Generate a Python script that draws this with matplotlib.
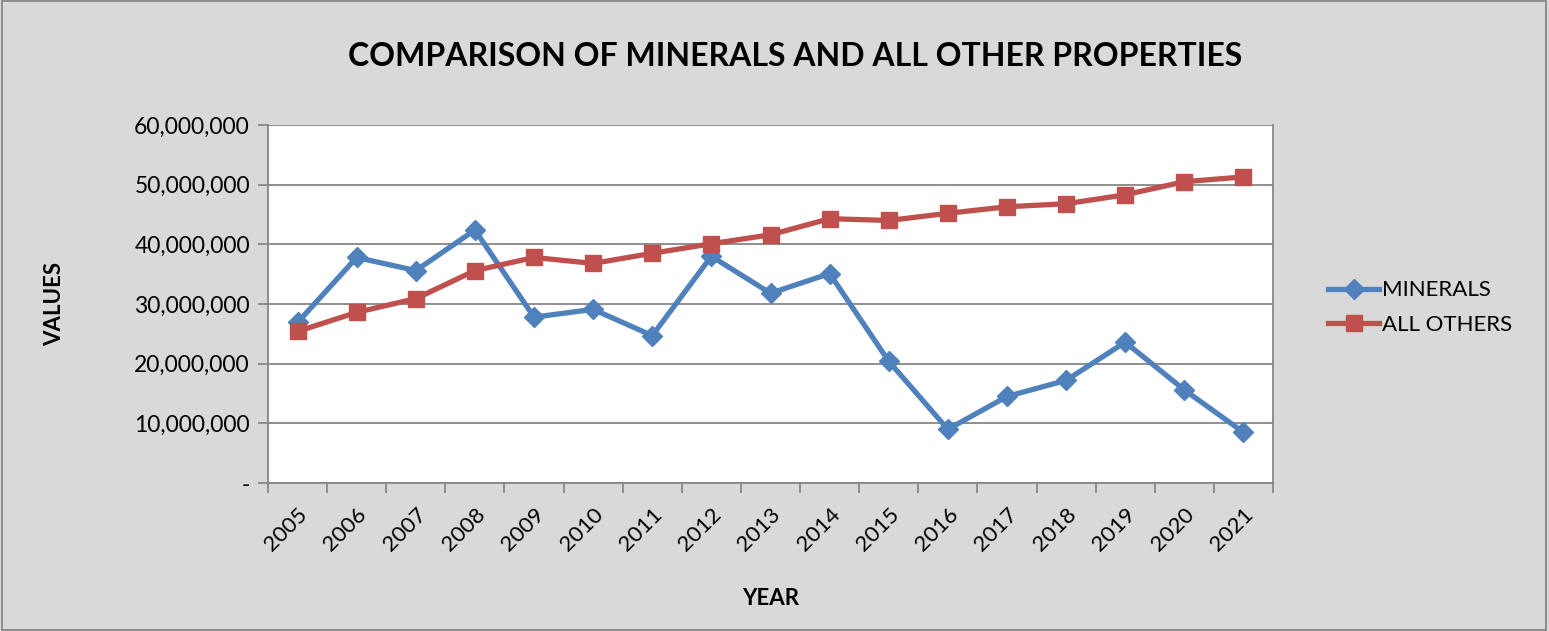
import matplotlib
matplotlib.use('Agg')
import matplotlib.pyplot as plt
import matplotlib.transforms as mtransforms
from matplotlib.ticker import FuncFormatter
import numpy as np

plt.rcParams['font.family'] = ['Lato', 'DejaVu Sans']

# Data
years = ['2005', '2006', '2007', '2008', '2009', '2010', '2011', '2012', '2013',
         '2014', '2015', '2016', '2017', '2018', '2019', '2020', '2021']
minerals = [26.9, 37.8, 35.6, 42.4, 27.8, 29.1, 24.7, 38.0, 31.8,
            35.1, 20.4, 9.0, 14.5, 17.2, 23.6, 15.6, 8.5]
all_others = [25.4, 28.6, 30.9, 35.6, 37.8, 36.8, 38.5, 40.1, 41.6,
              44.3, 44.0, 45.2, 46.3, 46.8, 48.3, 50.5, 51.3]
minerals = [v * 1e6 for v in minerals]
all_others = [v * 1e6 for v in all_others]

bg = '#D9D9D9'
grid_c = '#868686'

fig = plt.figure(figsize=(15.49, 6.31), dpi=100, facecolor=bg)
ax = fig.add_axes([268 / 1549, 1 - 483 / 631, (1273 - 268) / 1549, (483 - 125) / 631])
ax.set_facecolor('white')

x = np.arange(len(years))
ax.plot(x, minerals, color='#4F81BD', lw=3.8, marker='D', ms=10, label='MINERALS')
ax.plot(x, all_others, color='#C0504D', lw=3.8, marker='s', ms=12, label='ALL OTHERS')

ax.set_xlim(-0.5, len(years) - 0.5)
ax.set_ylim(0, 60e6)
ax.set_yticks(np.arange(0, 60e6 + 1, 10e6))
ax.yaxis.set_major_formatter(FuncFormatter(lambda v, p: '-' if v == 0 else f'{v:,.0f}'))
ax.grid(axis='y', color=grid_c, lw=1.3)
ax.set_axisbelow(True)

# category boundaries get tick marks, labels sit on categories
ax.set_xticks(np.arange(-0.5, len(years), 1), minor=True)
ax.set_xticks(x)
ax.set_xticklabels(years, rotation=45, ha='right', rotation_mode='anchor')
offset = mtransforms.ScaledTranslation(-0.2, 0.0, fig.dpi_scale_trans)
for lbl in ax.get_xticklabels():
    lbl.set_transform(lbl.get_transform() + offset)
ax.tick_params(axis='x', which='major', length=0, pad=15, labelsize=16)
ax.tick_params(axis='x', which='minor', length=7, color=grid_c, width=1.3)
ax.tick_params(axis='y', length=7, color=grid_c, width=1.3, labelsize=16.5, pad=6)

for side in ['left', 'bottom', 'right']:
    ax.spines[side].set_color(grid_c)
    ax.spines[side].set_linewidth(1.3)
ax.spines['top'].set_visible(False)

ax.set_xlabel('YEAR', fontsize=16, fontweight='bold', labelpad=24)
ax.set_ylabel('VALUES', fontsize=16, fontweight='bold', labelpad=50)

fig.text(795 / 1549, 1 - 57 / 631, 'COMPARISON OF MINERALS AND ALL OTHER PROPERTIES',
         ha='center', va='center', fontsize=23, fontweight='bold')

leg = ax.legend(loc='center left', bbox_to_anchor=(1.035, 0.49), frameon=False,
                fontsize=16, handlelength=2.3, handletextpad=0.1, labelspacing=0.65)

# outer border
fig.patches.append(plt.Rectangle((0.001, 0.002), 0.997, 0.996, transform=fig.transFigure,
                                 fill=False, edgecolor='#7F7F7F', lw=1.2))

fig.savefig('out.png', dpi=100, facecolor=bg)
